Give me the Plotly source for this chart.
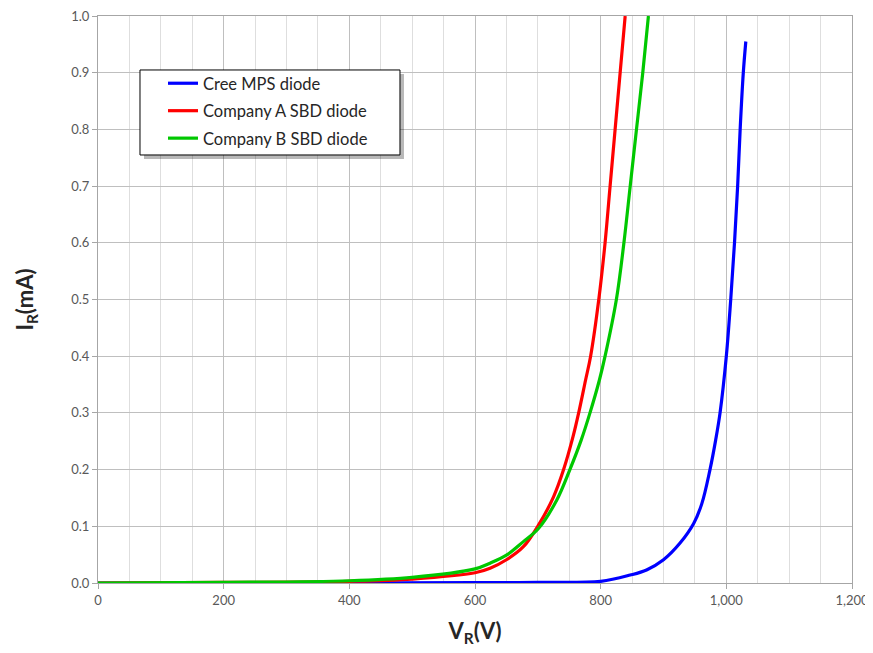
import plotly.graph_objects as go

# Data
cree_v = [0, 200, 400, 600, 700, 800, 847, 873, 900, 926, 948, 961, 974, 983, 990, 1000, 1007, 1013, 1018, 1022, 1027, 1031]
cree_i = [0, 0, 0, 0.0005, 0.001, 0.003, 0.014, 0.023, 0.041, 0.070, 0.105, 0.14, 0.20, 0.252, 0.30, 0.40, 0.50, 0.60, 0.70, 0.80, 0.90, 0.955]

compa_v = [0, 200, 400, 500, 600, 624, 650, 677, 701, 725, 741, 756, 765, 776, 784, 797, 807, 815, 823, 831, 839]
compa_i = [0, 0.001, 0.003, 0.007, 0.018, 0.026, 0.041, 0.064, 0.102, 0.152, 0.20, 0.258, 0.30, 0.358, 0.40, 0.50, 0.60, 0.70, 0.80, 0.90, 1.0]

compb_v = [0, 200, 400, 500, 600, 624, 650, 677, 701, 730, 751, 769, 783, 798, 807, 825, 837, 847, 857, 867, 876]
compb_i = [0, 0.001, 0.004, 0.010, 0.025, 0.035, 0.049, 0.073, 0.096, 0.146, 0.20, 0.252, 0.30, 0.358, 0.40, 0.50, 0.60, 0.70, 0.80, 0.90, 1.0]

series_names = ["Cree MPS diode", "Company A SBD diode", "Company B SBD diode"]
series_colors = ["#0000ff", "#ff0000", "#00c800"]

FONT = "Lato, 'Open Sans', sans-serif"

fig = go.Figure()
for name, vx, iy, col in zip(series_names, [cree_v, compa_v, compb_v], [cree_i, compa_i, compb_i], series_colors):
    fig.add_trace(go.Scatter(
        x=vx, y=iy, mode="lines", name=name, legendgroup=name,
        line=dict(color=col, width=3.2, shape="spline", smoothing=1.0),
    ))

# legend frame with drop shadow (drawn as shapes under the legend)
fig.add_shape(type="rect", xref="paper", yref="paper",
              x0=0.0610, x1=0.4058, y0=0.7478, y1=0.8977,
              fillcolor="rgba(0,0,0,0.28)", line=dict(width=0), layer="above")
fig.add_shape(type="rect", xref="paper", yref="paper",
              x0=0.0557, x1=0.4005, y0=0.7549, y1=0.9048,
              fillcolor="white", line=dict(color="#000000", width=1), layer="above")

fig.update_layout(
    width=873, height=653,
    margin=dict(l=90, r=29, t=8, b=78),
    paper_bgcolor="white", plot_bgcolor="white",
    font=dict(family=FONT, color="#595959", size=13),
    showlegend=True,
    legend=dict(
        x=0.0862, y=0.9118, xanchor="left", yanchor="top",
        bgcolor="rgba(0,0,0,0)", borderwidth=0,
        font=dict(family=FONT, size=16.5, color="#262626"),
        tracegroupgap=3,
    ),
    xaxis=dict(
        range=[0, 1200], dtick=200, tickformat=",d", automargin=False,
        ticklabeloverflow="allow",
        showgrid=True, gridcolor="#bfbfbf", gridwidth=1,
        minor=dict(dtick=50, showgrid=True, gridcolor="#dedede", gridwidth=1),
        showline=True, linecolor="#a6a6a6", linewidth=1, mirror=True,
        ticks="outside", ticklen=5, tickcolor="#a6a6a6",
        zeroline=False,
        title=dict(text="<b>V<sub>R</sub>(V)</b>", font=dict(family=FONT, size=22, color="#262626"), standoff=17),
        tickfont=dict(size=13, color="#595959"),
    ),
    yaxis=dict(
        range=[0, 1.0], dtick=0.1, tickformat=".1f", automargin=False,
        ticklabeloverflow="allow",
        showgrid=True, gridcolor="#bfbfbf", gridwidth=1,
        showline=True, linecolor="#a6a6a6", linewidth=1, mirror=True,
        ticks="outside", ticklen=5, tickcolor="#a6a6a6",
        zeroline=False,
        title=dict(text="<b>I<sub>R</sub>(mA)</b>", font=dict(family=FONT, size=22, color="#262626"), standoff=31),
        tickfont=dict(size=13, color="#595959"),
    ),
)

fig.write_html("out.html")
